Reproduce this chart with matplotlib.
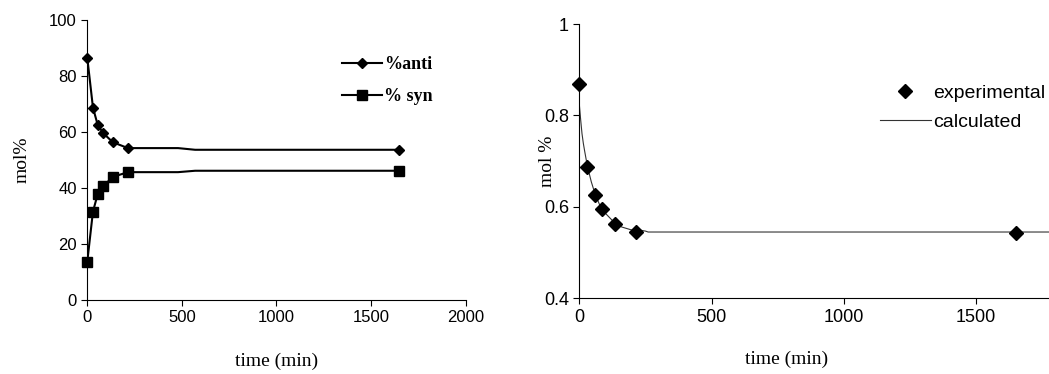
import matplotlib
matplotlib.use("Agg")
import matplotlib.pyplot as plt

# left panel: isomer ratio vs time
t_exp = [0, 30, 55, 85, 135, 215, 1650]
anti = [86.5, 68.7, 62.5, 59.5, 56.3, 54.2, 53.6]
syn = [13.6, 31.5, 37.7, 40.6, 43.9, 45.6, 46.1]
# the connecting lines have two extra (unmarked) points
t_line = [0, 30, 55, 85, 135, 215, 480, 570, 1650]
anti_line = [86.5, 68.7, 62.5, 59.5, 56.3, 54.2, 54.2, 53.6, 53.6]
syn_line = [13.6, 31.5, 37.7, 40.6, 43.9, 45.6, 45.6, 46.1, 46.1]

# right panel: experimental fraction vs calculated curve
t_frac = [0, 30, 60, 84, 136, 213, 1652]
frac = [0.868, 0.688, 0.627, 0.595, 0.563, 0.544, 0.542]
t_calc = [0, 5, 10, 15, 20, 30, 45, 60, 80, 100, 130, 160, 200, 230, 250, 260, 1800]
calc = [0.823, 0.79, 0.76, 0.739, 0.722, 0.69, 0.655, 0.627, 0.60, 0.585, 0.567,
        0.556, 0.549, 0.549, 0.547, 0.545, 0.545]

lab_font = {"family": "Liberation Serif", "size": 14}

fig = plt.figure(figsize=(10.49, 3.74), dpi=100)

def style(ax, size):
    ax.spines["top"].set_visible(False)
    ax.spines["right"].set_visible(False)
    ax.tick_params(direction="out", length=4, width=0.8, colors="black")
    for lb in ax.get_xticklabels() + ax.get_yticklabels():
        lb.set_fontfamily("Liberation Sans")
        lb.set_fontsize(size)

# ---- left
ax1 = fig.add_axes([0.0832, 0.1987, 0.3607, 0.7478])
ax1.plot(t_line, anti_line, "k-", lw=1.5)
ax1.plot(t_line, syn_line, "k-", lw=1.5)
ax1.plot(t_exp, anti, "kD", ms=5, clip_on=False)
ax1.plot(t_exp, syn, "ks", ms=6.5, clip_on=False)
h1, = ax1.plot([], [], "k-", marker="D", ms=5.5, lw=1.5)
h2, = ax1.plot([], [], "k-", marker="s", ms=6.5, lw=1.5)
ax1.set_xlim(0, 2000)
ax1.set_ylim(0, 100)
ax1.set_xticks([0, 500, 1000, 1500, 2000])
ax1.set_yticks([0, 20, 40, 60, 80, 100])
style(ax1, 12)
ax1.set_xlabel("time (min)", fontdict=lab_font)
ax1.xaxis.set_label_coords(0.5, -0.19)
ax1.set_ylabel("mol%", fontdict=lab_font)
ax1.yaxis.set_label_coords(-0.15, 0.5)
ax1.legend([h1, h2], ["%anti", "% syn"], loc="upper left",
           bbox_to_anchor=(0.63, 0.93), frameon=False, handlelength=2.2,
           handletextpad=0.15, labelspacing=0.85,
           prop={"family": "Liberation Serif", "weight": "bold", "size": 13})

# ---- right
ax2 = fig.add_axes([0.5523, 0.2024, 0.4477, 0.7334])
ax2.plot(t_calc, calc, "-", color="#333333", lw=0.8, label="calculated")
ax2.plot(t_frac, frac, "kD", ms=7, linestyle="none", label="experimental",
         clip_on=False)
ax2.set_xlim(0, 1775)
ax2.set_ylim(0.4, 1.0)
ax2.set_xticks([0, 500, 1000, 1500])
ax2.set_yticks([0.4, 0.6, 0.8, 1.0])
ax2.set_yticklabels(["0.4", "0.6", "0.8", "1"])
style(ax2, 13)
ax2.set_xlabel("time (min)", fontdict=lab_font)
ax2.xaxis.set_label_coords(0.442, -0.19)
ax2.set_ylabel("mol %", fontdict=lab_font)
ax2.yaxis.set_label_coords(-0.05, 0.5)
hh, ll = ax2.get_legend_handles_labels()
ax2.legend(hh[::-1], ll[::-1], loc="upper left", bbox_to_anchor=(0.603, 0.845),
           frameon=False, handlelength=2.6, handletextpad=0.15, labelspacing=0.6,
           prop={"family": "Liberation Sans", "size": 14})

fig.savefig("out.png", dpi=100)
